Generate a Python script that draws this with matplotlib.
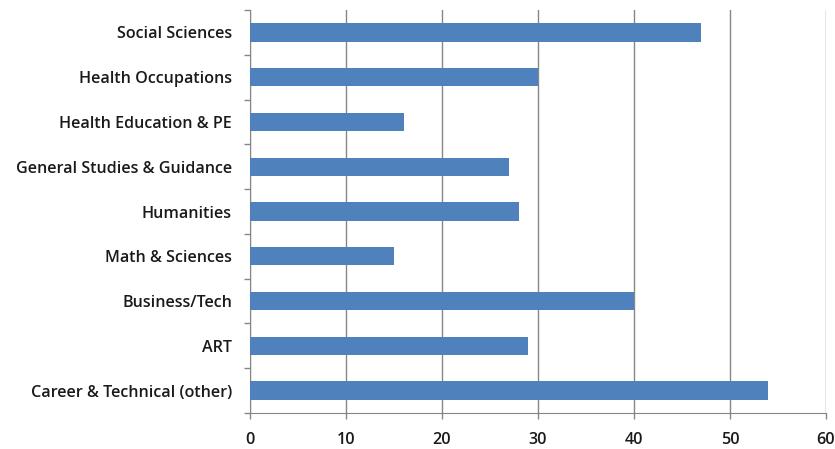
import matplotlib.pyplot as plt
import numpy as np

categorias = ['Career & Technical (other)', 'ART', 'Business/Tech', 'Math & Sciences',
              'Humanities', 'General Studies & Guidance', 'Health Education & PE',
              'Health Occupations', 'Social Sciences']
valores = [54, 29, 40, 15, 28, 27, 16, 30, 47]
xticks = [0, 10, 20, 30, 40, 50, 60]

plt.rcParams['font.family'] = ['Open Sans', 'DejaVu Sans']

fig = plt.figure(figsize=(8.35, 4.49), dpi=100)
ax = fig.add_axes([0.2994, 0.0802, 0.6898, 0.8975])

y = np.arange(len(categorias))
ax.barh(y, valores, height=0.41, color='#4F81BD', zorder=3)

ax.set_xlim(0, 60)
ax.set_ylim(-0.5, len(categorias) - 0.5)
ax.set_xticks(xticks)
ax.set_yticks(y)
ax.set_yticklabels(categorias, fontsize=11.6, fontweight='semibold', color='#1a1a1a')
ax.set_yticks(np.arange(-0.5, len(categorias), 1), minor=True)
ax.tick_params(axis='y', which='major', length=0, pad=13)
ax.tick_params(axis='y', which='minor', length=4.5, color='#868686', width=1)
ax.tick_params(axis='x', length=4.5, color='#868686', width=1, labelsize=11.6, pad=9)
for lab in ax.get_xticklabels():
    lab.set_fontweight('semibold')
    lab.set_color('#1a1a1a')

ax.grid(axis='x', color='#878787', linewidth=1, zorder=0)
for s in ['top', 'right']:
    ax.spines[s].set_visible(False)
ax.spines['left'].set_color('#868686')
ax.spines['bottom'].set_color('#868686')

plt.savefig('out.png', dpi=100)
